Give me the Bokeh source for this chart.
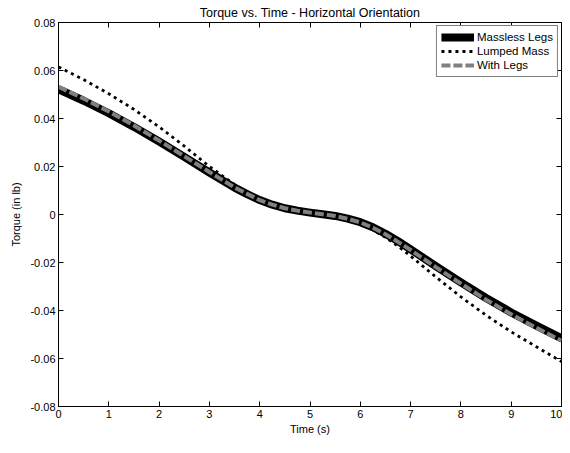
from bokeh.plotting import figure
from bokeh.models import LinearAxis, FixedTicker, Range1d, Legend, LegendItem
from bokeh.embed import file_html
from bokeh.resources import INLINE

# ---- data ----
time_s = [0, 0.5, 1, 1.5, 2, 2.5, 3, 3.5, 3.75, 4, 4.25, 4.5, 4.75, 5, 5.25, 5.5, 5.75, 6, 6.25, 6.5, 6.75,
          7, 7.5, 8, 8.5, 9, 9.5, 10]
massless_legs = [0.0522, 0.0474, 0.0422, 0.0365, 0.0304, 0.0240, 0.0175, 0.0112, 0.0085, 0.0060, 0.0041,
                 0.0026, 0.0016, 0.0008, 0.0001, -0.0006, -0.0017, -0.0032, -0.0053, -0.0080, -0.0111,
                 -0.0145, -0.0215, -0.0283, -0.0348, -0.0408, -0.0463, -0.0516]
lumped_mass = [0.0615, 0.0562, 0.0503, 0.0438, 0.0365, 0.0285, 0.0200, 0.0125, 0.0092, 0.0062, 0.0041,
               0.0024, 0.0013, 0.0006, -0.0001, -0.0008, -0.0021, -0.0040, -0.0064, -0.0095, -0.0132,
               -0.0173, -0.0260, -0.0343, -0.0420, -0.0489, -0.0551, -0.0613]
with_legs = [0.0532, 0.0483, 0.0429, 0.0371, 0.0308, 0.0243, 0.0177, 0.0113, 0.0086, 0.0060, 0.0041,
             0.0026, 0.0016, 0.0008, 0.0001, -0.0006, -0.0018, -0.0033, -0.0055, -0.0082, -0.0114,
             -0.0148, -0.0219, -0.0288, -0.0355, -0.0416, -0.0472, -0.0526]

x_ticks = [0, 1, 2, 3, 4, 5, 6, 7, 8, 9, 10]
x_tick_labels = ["0", "1", "2", "3", "4", "5", "6", "7", "8", "9", "10"]
y_ticks = [-0.08, -0.06, -0.04, -0.02, 0, 0.02, 0.04, 0.06, 0.08]
y_tick_labels = ["-0.08", "-0.06", "-0.04", "-0.02", "0", "0.02", "0.04", "0.06", "0.08"]

FONT = "Liberation Sans"
FS = "11px"
X_MAX = 10
RIGHT_TICK_LEN = 0.1  # in x data units (about 5 px)

p = figure(width=562, height=437, output_backend="svg", toolbar_location=None,
           x_range=Range1d(0, X_MAX), y_range=Range1d(-0.08, 0.08),
           title="Torque vs. Time - Horizontal Orientation",
           min_border_left=58, min_border_right=1, min_border_top=17, min_border_bottom=29)

p.title.align = "center"
p.title.text_font = FONT
p.title.text_font_size = "12.5px"
p.title.text_font_style = "normal"
p.title.text_color = "black"
p.title.standoff = 6

p.xgrid.visible = False
p.ygrid.visible = False
p.outline_line_color = "black"
p.outline_line_width = 1
p.outline_line_alpha = 1
p.background_fill_color = "white"
p.border_fill_color = "white"

def style_axis(ax, ticks, labels, show_labels=True):
    ax.ticker = FixedTicker(ticks=ticks)
    ax.major_label_overrides = {t: l for t, l in zip(ticks, labels)}
    ax.major_tick_in = 5
    ax.major_tick_out = 0
    ax.minor_tick_in = 0
    ax.minor_tick_out = 0
    ax.axis_line_color = "black"
    ax.major_tick_line_color = "black"
    ax.major_label_text_font = FONT
    ax.major_label_text_color = "black"
    ax.axis_label_text_font = FONT
    ax.axis_label_text_font_size = FS
    ax.axis_label_text_font_style = "normal"
    ax.axis_label_text_color = "black"
    if show_labels:
        ax.major_label_text_font_size = FS
        ax.major_label_standoff = 3
    else:
        ax.major_label_text_font_size = "0px"
        ax.major_label_standoff = 0

style_axis(p.xaxis[0], x_ticks, x_tick_labels)
style_axis(p.yaxis[0], y_ticks, y_tick_labels)
p.xaxis[0].axis_label = "Time (s)"
p.xaxis[0].axis_label_standoff = 2
p.yaxis[0].axis_label = "Torque (in lb)"
p.yaxis[0].axis_label_standoff = 5

top_ax = LinearAxis()
style_axis(top_ax, x_ticks, ["" for _ in x_ticks], show_labels=False)
p.add_layout(top_ax, "above")

# right-hand inward ticks of the box
p.segment(x0=[X_MAX] * len(y_ticks), y0=y_ticks,
          x1=[X_MAX - RIGHT_TICK_LEN] * len(y_ticks), y1=y_ticks,
          line_color="black", line_width=1)

r1 = p.line(time_s, massless_legs, line_color="black", line_width=8, line_join="round")
r2 = p.line(time_s, lumped_mass, line_color="black", line_width=2.8, line_dash="3 4")
r3 = p.line(time_s, with_legs, line_color="#808080", line_width=4, line_dash="9 3")

legend = Legend(items=[LegendItem(label="Massless Legs", renderers=[r1]),
                       LegendItem(label="Lumped Mass", renderers=[r2]),
                       LegendItem(label="With Legs", renderers=[r3])],
                location="top_right")
legend.margin = 3
legend.padding = 4
legend.spacing = 0
legend.border_line_color = "black"
legend.border_line_width = 1
legend.background_fill_alpha = 1
legend.label_text_font = FONT
legend.label_text_font_size = "11.5px"
legend.label_text_color = "black"
legend.label_height = 14
legend.label_standoff = 3
legend.glyph_width = 33
legend.glyph_height = 14
p.add_layout(legend, "center")

open("out.html", "w").write(file_html(p, INLINE))
